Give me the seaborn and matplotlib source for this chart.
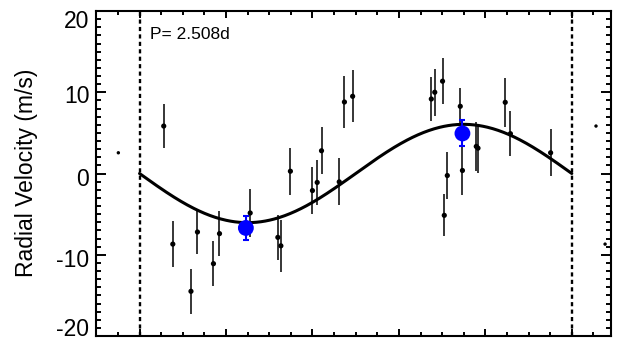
import numpy as np
import pandas as pd
import matplotlib
matplotlib.use("Agg")
import matplotlib.pyplot as plt
from matplotlib.ticker import MultipleLocator, FixedLocator
from matplotlib.transforms import ScaledTranslation
import seaborn as sns

# ---- data ----
phase = [0.056, 0.077, 0.119, 0.134, 0.171, 0.185, 0.256, 0.320, 0.327, 0.349,
         0.400, 0.411, 0.421, 0.462, 0.474, 0.493, 0.675, 0.683, 0.701, 0.705,
         0.712, 0.742, 0.747, 0.779, 0.783, 0.846, 0.858, 0.951]
rv = [5.84, -8.69, -14.5, -7.2, -11.1, -7.4, -4.86, -7.86, -8.9, 0.28,
      -2.1, -1.1, 2.8, -1.03, 8.8, 9.5, 9.17, 10.0, 11.36, -5.15,
      -0.25, 8.27, 0.37, 3.33, 3.12, 8.76, 4.9, 2.55]
rv_err = [2.7, 2.8, 2.8, 2.7, 2.8, 2.8, 3.0, 2.8, 3.2, 2.9,
          2.9, 2.8, 2.9, 2.9, 3.2, 3.2, 2.7, 2.9, 2.8, 2.6,
          2.9, 2.3, 3.0, 3.0, 3.0, 3.0, 2.8, 2.9]

# wrapped copies shown outside [0, 1]
phase_wrap = [-0.049, 1.056, 1.077]
rv_wrap = [2.55, 5.84, -8.69]

# binned points
phase_bin = [0.246, 0.747]
rv_bin = [-6.7, 4.93]
rv_bin_err = [1.43, 1.6]

# model: circular orbit, semi-amplitude K
period_label = "P= 2.508d"
K_amp = 6.05
yticks = [-20, -10, 0, 10, 20]

# ---- figure ----
sns.set_style("ticks")
plt.rcParams["font.family"] = ["Liberation Sans", "DejaVu Sans"]
plt.rcParams["text.color"] = "black"
plt.rcParams["axes.labelcolor"] = "black"
plt.rcParams["xtick.color"] = "black"
plt.rcParams["ytick.color"] = "black"

W, H = 619, 339
fig = plt.figure(figsize=(W / 100, H / 100), dpi=100)
ax_l, ax_r, ax_t, ax_b = 96.3, 610.7, 11.0, 336.0
ax = fig.add_axes([ax_l / W, 1 - ax_b / H, (ax_r - ax_l) / W, (ax_b - ax_t) / H])

df = pd.DataFrame({"phase": phase, "rv": rv, "err": rv_err})
dfw = pd.DataFrame({"phase": phase_wrap, "rv": rv_wrap})
dfb = pd.DataFrame({"phase": phase_bin, "rv": rv_bin, "err": rv_bin_err})

model_phase = np.linspace(0, 1, 400)
dfm = pd.DataFrame({"phase": model_phase, "rv": -K_amp * np.sin(2 * np.pi * model_phase)})

# dashed phase boundaries
for xv in (0, 1):
    ax.axvline(xv, color="black", lw=1.7, linestyle=(0, (1.75, 1.4)), zorder=1)

# model curve
sns.lineplot(data=dfm, x="phase", y="rv", ax=ax, color="black", lw=2.2, zorder=3)

# data error bars and points
ax.errorbar(df["phase"], df["rv"], yerr=df["err"], fmt="none", ecolor="black",
            elinewidth=1.1, capsize=0, zorder=2)
sns.scatterplot(data=df, x="phase", y="rv", ax=ax, color="black", s=14,
                edgecolor="none", zorder=4)
sns.scatterplot(data=dfw, x="phase", y="rv", ax=ax, color="black", s=6,
                edgecolor="none", zorder=4)

# binned points
ax.errorbar(dfb["phase"], dfb["rv"], yerr=dfb["err"], fmt="none", ecolor="#0000ff",
            elinewidth=1.5, capsize=2.4, capthick=1.5, zorder=5)
sns.scatterplot(data=dfb, x="phase", y="rv", ax=ax, color="#0000ff", s=130,
                edgecolor="none", zorder=6)

ax.text((150 - ax_l) / (ax_r - ax_l), (ax_b - 39) / (ax_b - ax_t), period_label,
        transform=ax.transAxes, fontsize=12.5, ha="left", va="baseline", color="black")

ax.set_xlim(-0.1, 1.09)
ax.set_ylim(-20, 20)
ax.xaxis.set_major_locator(MultipleLocator(0.2))
ax.xaxis.set_minor_locator(MultipleLocator(0.05))
ax.yaxis.set_major_locator(FixedLocator(yticks))
ax.yaxis.set_minor_locator(MultipleLocator(1))
ax.set_yticklabels([str(v) for v in yticks])

for sp in ax.spines.values():
    sp.set_linewidth(1.5)
    sp.set_color("black")

ax.tick_params(axis="both", which="both", direction="in", top=True, right=True,
               width=1.4, color="black", labelcolor="black")
ax.tick_params(axis="x", which="major", length=5.2, labelbottom=False)
ax.tick_params(axis="x", which="minor", length=2.8)
ax.tick_params(axis="y", which="major", length=7.2, labelsize=16.5, pad=5)
ax.tick_params(axis="y", which="minor", length=3.6)

ax.set_xlabel("")
ax.set_ylabel("Radial Velocity (m/s)", fontsize=16.5, va="center", color="black")
ax.yaxis.set_label_coords((27 - ax_l) / (ax_r - ax_l), (ax_b - 172.5) / (ax_b - ax_t))

# nudge tick labels vertically like the reference (px, positive = down)
offsets = {-20: -9.5, -10: 3, 0: 3, 10: 2, 20: 8}
for tick, val in zip(ax.yaxis.get_major_ticks(), yticks):
    lab = tick.label1
    lab.set_transform(lab.get_transform() +
                      ScaledTranslation(0, -offsets[val] / 100, fig.dpi_scale_trans))

if ax.get_legend() is not None:
    ax.get_legend().remove()

fig.savefig("out.png", dpi=100)
